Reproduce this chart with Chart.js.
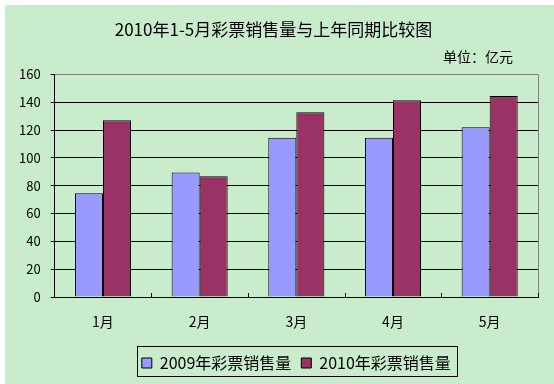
<!DOCTYPE html>
<html><head><meta charset="utf-8">
<script src="https://cdn.jsdelivr.net/npm/chart.js@4"></script>
<style>html,body{margin:0;padding:0;background:#fff}canvas{display:block}</style>
</head><body>
<canvas id="c" width="554" height="384"></canvas>
<script>
const categories = ['1月', '2月', '3月', '4月', '5月'];
const sales2009 = [74.5, 89.5, 114.5, 114.5, 122];
const sales2010 = [127, 86.8, 132.8, 141.5, 144.5];
const seriesNames = ['2009年彩票销售量', '2010年彩票销售量'];
const yTicks = [0, 20, 40, 60, 80, 100, 120, 140, 160];
const titleText = '2010年1-5月彩票销售量与上年同期比较图';
const unitText = '单位：亿元';

const FONT = "'Noto Sans CJK SC', 'DejaVu Sans', sans-serif";
const GREEN = '#C8ECCC';

const decor = {
  id: 'decor',
  beforeDraw(chart) {
    const ctx = chart.ctx;
    ctx.save();
    ctx.fillStyle = '#ffffff';
    ctx.fillRect(0, 0, chart.width, chart.height);
    ctx.fillStyle = GREEN;
    ctx.fillRect(5, 5, chart.width - 5, chart.height - 5);
    ctx.restore();
  },
  afterLayout(chart) {
    const lg = chart.legend, ca = chart.chartArea;
    const dx = (ca.left + ca.right) / 2 - (lg.left + lg.right) / 2;
    lg.left += dx; lg.right += dx;
    const dy = 345 - lg.top;
    lg.top += dy; lg.bottom += dy;
  },
  afterDraw(chart) {
    const ctx = chart.ctx, ca = chart.chartArea;
    ctx.save();
    ctx.font = '14px ' + FONT;
    ctx.fillStyle = '#000';
    ctx.textAlign = 'right';
    ctx.textBaseline = 'middle';
    ctx.fillText(unitText, ca.right - 25, 57);
    ctx.strokeStyle = '#808080';
    ctx.lineWidth = 1;
    ctx.beginPath();
    ctx.moveTo(Math.round(ca.right) + 0.5, ca.top);
    ctx.lineTo(Math.round(ca.right) + 0.5, ca.bottom);
    ctx.stroke();
    const xs = chart.scales.x;
    const w = xs.getPixelForValue(1) - xs.getPixelForValue(0);
    ctx.strokeStyle = '#000';
    ctx.beginPath();
    for (let i = 1; i <= categories.length; i++) {
      const x = Math.round(xs.getPixelForValue(i - 1) + w / 2) + 0.5;
      ctx.moveTo(x, ca.bottom);
      ctx.lineTo(x, ca.bottom - 4);
    }
    ctx.stroke();
    const hb = chart.legend.legendHitBoxes;
    if (hb && hb.length) {
      let l = Infinity, r = -Infinity, t = Infinity, b = -Infinity;
      hb.forEach(h => { l = Math.min(l, h.left); r = Math.max(r, h.left + h.width); t = Math.min(t, h.top); b = Math.max(b, h.top + h.height); });
      ctx.strokeStyle = '#000';
      ctx.strokeRect(Math.round(l - 5) + 0.5, Math.round(t - 9) + 0.5, Math.round(r - l + 11), Math.round(b - t + 14));
    }
    ctx.restore();
  }
};

new Chart(document.getElementById('c'), {
  type: 'bar',
  data: {
    labels: categories,
    datasets: [
      { label: seriesNames[0], data: sales2009, backgroundColor: '#9999FF', borderColor: '#000', borderWidth: 1 },
      { label: seriesNames[1], data: sales2010, backgroundColor: '#993366', borderColor: '#000', borderWidth: 1 }
    ]
  },
  options: {
    responsive: false,
    animation: false,
    devicePixelRatio: 1,
    layout: { padding: { left: 9, right: 16, top: 5, bottom: 0 } },
    datasets: { bar: { categoryPercentage: 0.58, barPercentage: 1 } },
    plugins: {
      title: {
        display: true, text: titleText, color: '#000',
        font: { family: FONT, size: 17, weight: 'normal' },
        padding: { top: 14, bottom: 35 }
      },
      legend: {
        position: 'bottom',
        labels: { boxWidth: 10, boxHeight: 10, padding: 10, color: '#000', font: { family: FONT, size: 16 } }
      },
      tooltip: { enabled: false }
    },
    scales: {
      x: {
        offset: true,
        grid: { display: false, drawTicks: false },
        border: { display: true, color: '#000', width: 1 },
        ticks: { color: '#000', padding: 16, font: { family: FONT, size: 14 } },
        afterFit(s) { s.height = 51; }
      },
      y: {
        min: yTicks[0], max: yTicks[yTicks.length - 1],
        ticks: { stepSize: yTicks[1] - yTicks[0], color: '#000', padding: 10, font: { family: FONT, size: 13 } },
        grid: {
          color: ctx => (ctx.tick && ctx.tick.value === yTicks[yTicks.length - 1]) ? '#808080' : '#000',
          tickColor: '#000', tickLength: 4, lineWidth: 1
        },
        border: { display: true, color: '#000', width: 1 }
      }
    }
  },
  plugins: [decor]
});
</script>
</body></html>
